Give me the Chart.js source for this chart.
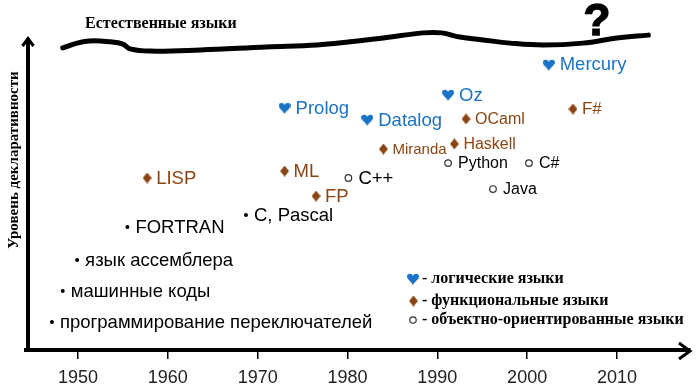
<!DOCTYPE html>
<html><head><meta charset="utf-8">
<script src="https://cdn.jsdelivr.net/npm/chart.js@4"></script>
<style>html,body{margin:0;padding:0;background:#fff}</style>
</head><body>
<canvas id="c" width="697" height="388" style="display:block"></canvas>
<script>
// ---------- DATA ----------
const yearTicks = [1950, 1960, 1970, 1980, 1990, 2000, 2010];

const baseNames  = ['программирование переключателей', 'машинные коды', 'язык ассемблера', 'FORTRAN', 'C, Pascal'];
const baseYears  = [1947.1, 1948.3, 1949.9, 1955.5, 1968.7];
const baseLevels = [8.75, 18.4, 28.1, 38.4, 42.2];

const logicNames  = ['Prolog', 'Datalog', 'Oz', 'Mercury'];
const logicYears  = [1973.0, 1982.2, 1991.2, 2002.4];
const logicLevels = [75.6, 71.9, 79.7, 89.1];

const funcNames  = ['LISP', 'ML', 'FP', 'Miranda', 'Haskell', 'OCaml', 'F#'];
const funcYears  = [1957.7, 1973.0, 1976.5, 1984.0, 1991.9, 1993.2, 2005.1];
const funcLevels = [53.75, 55.9, 48.1, 62.8, 64.4, 72.2, 75.3];

const ooNames  = ['C++', 'Python', 'Java', 'C#'];
const ooYears  = [1980.1, 1991.2, 1996.2, 2000.2];
const ooLevels = [53.75, 58.4, 50.3, 58.4];

const naturalYears  = [1948.3, 1949.9, 1951.3, 1953.6, 1955.0, 1955.8, 1958.0, 1963.6, 1971.0, 1976.6, 1980.3, 1984.0, 1988.4, 1990.5, 1992.5, 1995.1, 1998.1, 2001.8, 2006.2, 2010.0, 2013.5];
const naturalLevels = [94.4, 95.9, 96.6, 96.3, 95.6, 94.1, 93.4, 93.75, 94.7, 95.3, 96.3, 97.5, 99.1, 99.1, 97.8, 96.9, 95.9, 95.3, 95.9, 97.5, 98.4];

const topTitle = 'Естественные языки';
const yTitle = 'Уровень декларативности';
const legendTexts = ['- логические языки', '- функциональные языки', '- объектно-ориентированные языки'];

// ---------- STYLE ----------
const BLUE = '#1a73c4';
const BROWN = '#8b4513';
const SANS = '"Liberation Sans", Arial, sans-serif';
const SERIF = '"Liberation Serif", "Times New Roman", serif';
const smallLabel = { 'Miranda': 15, 'Haskell': 16, 'OCaml': 16, 'Python': 16, 'C#': 16, 'Java': 16, 'F#': 17 };

function heartCanvas(color, w, h) {
  const c = document.createElement('canvas'); c.width = w; c.height = h;
  const g = c.getContext('2d'); g.fillStyle = color;
  g.beginPath();
  g.moveTo(w / 2, h * 0.25);
  g.bezierCurveTo(w * 0.42, h * 0.0, 0, h * 0.0, 0, h * 0.3);
  g.bezierCurveTo(0, h * 0.55, w * 0.35, h * 0.7, w / 2, h);
  g.bezierCurveTo(w * 0.65, h * 0.7, w, h * 0.55, w, h * 0.3);
  g.bezierCurveTo(w, h * 0.0, w * 0.58, h * 0.0, w / 2, h * 0.25);
  g.fill();
  return c;
}
function diamondCanvas(color, w, h) {
  const c = document.createElement('canvas'); c.width = w; c.height = h;
  const g = c.getContext('2d'); g.fillStyle = color;
  g.beginPath();
  g.moveTo(w / 2, 0); g.lineTo(w, h / 2); g.lineTo(w / 2, h); g.lineTo(0, h / 2);
  g.closePath(); g.fill();
  return c;
}
const heartImg = heartCanvas(BLUE, 12, 12);
const diamondImg = diamondCanvas(BROWN, 9, 11);

function pts(xs, ys) { return xs.map((x, i) => ({ x: x, y: ys[i] })); }

const datasets = [
  { type: 'line', data: pts(naturalYears, naturalLevels), borderColor: '#000', borderWidth: 5,
    tension: 0.4, pointRadius: 0, fill: false, clip: false, borderCapStyle: 'round', borderJoinStyle: 'round' },
  { data: pts(baseYears, baseLevels), names: baseNames, labelColor: '#000', labelOffset: 8,
    pointStyle: 'circle', pointRadius: 2, backgroundColor: '#000', borderColor: '#000', borderWidth: 0, clip: false },
  { data: pts(logicYears, logicLevels), names: logicNames, labelColor: BLUE, labelOffset: 11,
    pointStyle: heartImg, clip: false },
  { data: pts(funcYears, funcLevels), names: funcNames, labelColor: BROWN, labelOffset: 9,
    pointStyle: diamondImg, clip: false },
  { data: pts(ooYears, ooLevels), names: ooNames, labelColor: '#000', labelOffset: 10,
    pointStyle: 'circle', pointRadius: 3.3, backgroundColor: '#fff', borderColor: '#333', borderWidth: 1.2, clip: false }
];

const decorPlugin = {
  id: 'decor',
  afterDatasetsDraw(chart) {
    const ctx = chart.ctx;
    const area = chart.chartArea;
    ctx.save();
    // point labels
    chart.data.datasets.forEach((ds, di) => {
      if (!ds.names) return;
      const meta = chart.getDatasetMeta(di);
      meta.data.forEach((el, i) => {
        const name = ds.names[i];
        const size = smallLabel[name] || 18.5;
        ctx.font = size + 'px ' + SANS;
        ctx.fillStyle = ds.labelColor;
        ctx.textAlign = 'left';
        ctx.textBaseline = 'middle';
        ctx.fillText(name, el.x + ds.labelOffset, el.y + 0.5);
      });
    });
    // y axis with arrow
    ctx.strokeStyle = '#000';
    ctx.lineWidth = 4;
    ctx.lineCap = 'butt';
    ctx.beginPath();
    ctx.moveTo(28, area.bottom + 2);
    ctx.lineTo(28, 38);
    ctx.stroke();
    ctx.lineWidth = 3;
    ctx.lineJoin = 'miter';
    ctx.beginPath();
    ctx.moveTo(22.5, 46); ctx.lineTo(28, 38.5); ctx.lineTo(33.5, 46);
    ctx.stroke();
    // x arrow head
    ctx.beginPath();
    ctx.moveTo(679, area.bottom - 7); ctx.lineTo(690, area.bottom + 1); ctx.lineTo(679, area.bottom + 9);
    ctx.stroke();
    // top title
    ctx.fillStyle = '#000';
    ctx.font = 'bold 16px ' + SERIF;
    ctx.textAlign = 'left';
    ctx.textBaseline = 'middle';
    ctx.fillText(topTitle, 85, 24);
    // question mark
    ctx.font = '900 44px ' + SANS;
    ctx.textAlign = 'center';
    ctx.textBaseline = 'alphabetic';
    ctx.lineWidth = 1.5; ctx.strokeStyle = '#000';
    ctx.strokeText('?', 597, 35);
    ctx.fillText('?', 597, 35);
    // y title
    ctx.save();
    ctx.translate(14, 160);
    ctx.rotate(-Math.PI / 2);
    ctx.font = 'bold 15px ' + SERIF;
    ctx.textAlign = 'center';
    ctx.textBaseline = 'middle';
    ctx.fillText(yTitle, 0, 0);
    ctx.restore();
    // legend
    const ly = [279, 301, 320];
    ctx.drawImage(heartImg, 407, ly[0] - 6);
    ctx.drawImage(diamondImg, 409, ly[1] - 5.5);
    ctx.beginPath();
    ctx.arc(413, ly[2], 3.2, 0, Math.PI * 2);
    ctx.fillStyle = '#fff'; ctx.fill();
    ctx.lineWidth = 1.2; ctx.strokeStyle = '#333'; ctx.stroke();
    ctx.fillStyle = '#000';
    ctx.font = 'bold 16px ' + SERIF;
    ctx.textAlign = 'left';
    ctx.textBaseline = 'middle';
    legendTexts.forEach((t, i) => ctx.fillText(t, 422, ly[i]));
    ctx.restore();
  }
};

new Chart(document.getElementById('c'), {
  type: 'scatter',
  data: { datasets: datasets },
  options: {
    responsive: false,
    animation: false,
    events: [],
    layout: { padding: { left: 26, right: 7, top: 30, bottom: 0 } },
    plugins: { legend: { display: false }, tooltip: { enabled: false }, title: { display: false } },
    scales: {
      x: {
        type: 'linear', min: 1944.21, max: 2018.13,
        afterBuildTicks: s => { s.ticks = yearTicks.map(v => ({ value: v })); },
        afterFit: s => { s.height = 38; },
        ticks: { font: { family: SANS, size: 18 }, color: '#222', padding: 8, autoSkip: false, maxRotation: 0,
                 callback: v => String(v) },
        grid: { drawOnChartArea: false, drawTicks: true, tickLength: 9, color: '#000', lineWidth: 1.5 },
        border: { display: true, color: '#000', width: 4 }
      },
      y: { type: 'linear', display: false, min: 0, max: 100 }
    }
  },
  plugins: [decorPlugin]
});
</script>
</body></html>
